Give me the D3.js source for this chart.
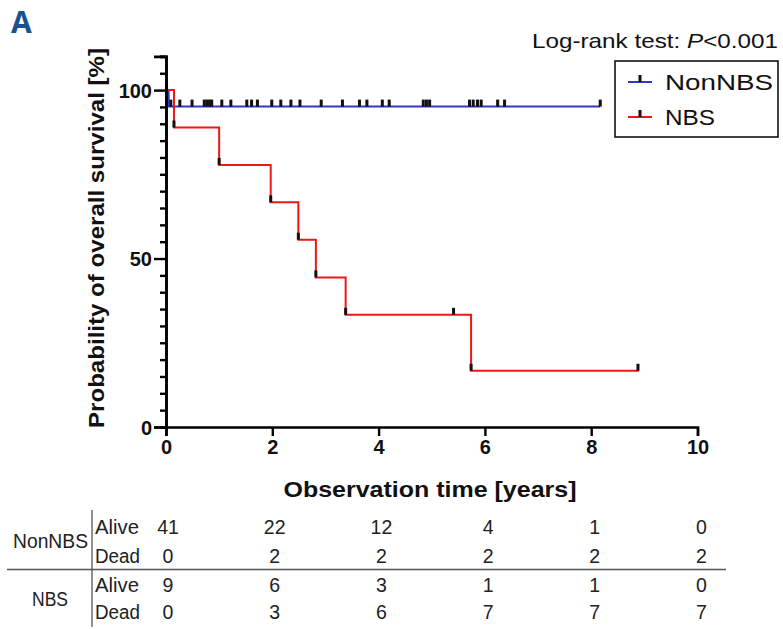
<!DOCTYPE html>
<html><head><meta charset="utf-8">
<script src="https://cdn.jsdelivr.net/npm/d3@7"></script>
<style>
html,body{margin:0;padding:0;background:#fff;}
svg{display:block;}
</style>
</head><body>
<svg id="chart" width="783" height="629"></svg>
<script>
// ---- data ----
const xTicks = [0, 2, 4, 6, 8, 10];
const yMajorTicks = [0, 50, 100];
const yMinorTicks = [5,10,15,20,25,30,35,40,45,55,60,65,70,75,80,85,90,95,105,110];

// NonNBS KM curve
const nonNbsTimes = [0, 0.05];
const nonNbsSurv = [100, 95.1];
const nonNbsEnd = 8.17;
const nonNbsCensorTimes = [0.01, 0.09, 0.26, 0.49, 0.72, 0.77, 0.82, 0.86, 1.05, 1.22, 1.52, 1.61, 1.72, 1.99, 2.16, 2.35, 2.52, 2.92, 3.32, 3.64, 3.78, 4.07, 4.20, 4.84, 4.90, 4.96, 5.71, 5.78, 5.86, 5.93, 6.24, 6.37, 8.17];

// NBS KM curve
const nbsTimes = [0, 0.15, 1.0, 1.97, 2.49, 2.82, 3.38, 5.74];
const nbsSurv = [100, 88.9, 77.8, 66.7, 55.6, 44.4, 33.3, 16.7];
const nbsEnd = 8.9;
const nbsCensorTimes = [0.15, 1.0, 1.97, 2.49, 2.82, 3.38, 5.41, 5.74, 8.88];

// risk table
const tableTimes = [0, 2, 4, 6, 8, 10];
const nonNbsAlive = [41, 22, 12, 4, 1, 0];
const nonNbsDead = [0, 2, 2, 2, 2, 2];
const nbsAlive = [9, 6, 3, 1, 1, 0];
const nbsDead = [0, 3, 6, 7, 7, 7];

const groupNames = ["NonNBS", "NBS"];
const colors = {NonNBS: "#3434cf", NBS: "#f01616"};

// ---- drawing ----
const svg = d3.select("#chart");
const x = d3.scaleLinear().domain([0, 10]).range([166, 697.5]);
const y = d3.scaleLinear().domain([0, 110]).range([427, 56.4]);
const ARIAL = "'Liberation Sans', Arial, Helvetica, sans-serif";

function survAt(times, surv, t){
  let s = surv[0];
  for (let i = 0; i < times.length; i++) if (times[i] <= t) s = surv[i];
  return s;
}

// panel letter
svg.append("text").attr("x", 11).attr("y", 33)
  .style("font-family", "'Open Sans', 'Liberation Sans', sans-serif")
  .style("font-weight", "700").style("font-size", "30px")
  .attr("fill", "#1c5190").text("A");

// curves
const line = d3.line().x(d => x(d[0])).y(d => y(d[1])).curve(d3.curveStepAfter);
function drawCurve(times, surv, end, censors, color){
  const pts = times.map((t, i) => [t, surv[i]]);
  pts.push([end, surv[surv.length - 1]]);
  svg.append("path").datum(pts).attr("d", line)
    .attr("fill", "none").attr("stroke", color).attr("stroke-width", 2);
  svg.append("g").selectAll("rect").data(censors).join("rect")
    .attr("x", d => x(d) - 1.5).attr("width", 3)
    .attr("y", d => y(survAt(times, surv, d)) - 7).attr("height", 7)
    .attr("fill", "#111");
}
drawCurve(nonNbsTimes, nonNbsSurv, nonNbsEnd, nonNbsCensorTimes, colors.NonNBS);
drawCurve(nbsTimes, nbsSurv, nbsEnd, nbsCensorTimes, colors.NBS);

// axes
const yAxisMinor = d3.axisLeft(y).tickValues(yMinorTicks).tickSize(6).tickFormat("");
const yAxis = d3.axisLeft(y).tickValues(yMajorTicks).tickSize(12).tickPadding(2);
const gyMinor = svg.append("g").attr("transform", "translate(166,0)").call(yAxisMinor);
const gy = svg.append("g").attr("transform", "translate(166,0)").call(yAxis);
const xAxis = d3.axisBottom(x).tickValues(xTicks).tickSize(9).tickPadding(4);
const gx = svg.append("g").attr("transform", "translate(0,427)").call(xAxis);
[gyMinor, gy, gx].forEach(g => {
  g.selectAll("path.domain").attr("stroke", "#000").attr("stroke-width", 2.6);
  g.selectAll(".tick line").attr("stroke", "#000").attr("stroke-width", 2.4);
  g.selectAll(".tick text").attr("fill", "#111")
    .style("font-family", ARIAL).style("font-weight", "700").style("font-size", "20px");
});
gy.selectAll(".tick text").attr("dy", "0.36em");

// axis titles
svg.append("text").attr("transform", "translate(104,238) rotate(-90)")
  .attr("text-anchor", "middle")
  .attr("textLength", 380).attr("lengthAdjust", "spacingAndGlyphs")
  .style("font-family", ARIAL).style("font-weight", "700").style("font-size", "22px")
  .attr("fill", "#111").text("Probability of overall survival [%]");
svg.append("text").attr("x", 430).attr("y", 497)
  .attr("text-anchor", "middle")
  .attr("textLength", 293).attr("lengthAdjust", "spacingAndGlyphs")
  .style("font-family", ARIAL).style("font-weight", "700").style("font-size", "22px")
  .attr("fill", "#111").text("Observation time [years]");

// log-rank text
const lr = svg.append("text").attr("x", 778).attr("y", 48).attr("text-anchor", "end")
  .style("font-family", ARIAL).style("font-size", "21px").attr("fill", "#111")
  .attr("textLength", 246).attr("lengthAdjust", "spacingAndGlyphs");
lr.append("tspan").text("Log-rank test: ");
lr.append("tspan").style("font-style", "italic").text("P");
lr.append("tspan").text("<0.001");

// legend
svg.append("rect").attr("x", 615).attr("y", 61).attr("width", 163).attr("height", 76)
  .attr("fill", "#fff").attr("stroke", "#111").attr("stroke-width", 1.6);
const legendRows = [{name: groupNames[0], cy: 82, len: 108}, {name: groupNames[1], cy: 117, len: 50}];
legendRows.forEach(r => {
  svg.append("line").attr("x1", 628).attr("x2", 652).attr("y1", r.cy).attr("y2", r.cy)
    .attr("stroke", colors[r.name]).attr("stroke-width", 2);
  svg.append("rect").attr("x", 638.5).attr("y", r.cy - 7).attr("width", 3).attr("height", 7).attr("fill", "#111");
  svg.append("text").attr("x", 665).attr("y", r.cy + 8)
    .attr("textLength", r.len).attr("lengthAdjust", "spacingAndGlyphs")
    .style("font-family", ARIAL).style("font-size", "22px").attr("fill", "#111")
    .text(r.name);
});

// risk table
const tx = d3.scaleLinear().domain([0, 10]).range([168, 701.5]);
const tableRows = [
  {label: "Alive", vals: nonNbsAlive, cy: 527, len: 44},
  {label: "Dead", vals: nonNbsDead, cy: 556, len: 45},
  {label: "Alive", vals: nbsAlive, cy: 585, len: 44},
  {label: "Dead", vals: nbsDead, cy: 612, len: 45}
];
const tfont = g => g.style("font-family", ARIAL).style("font-size", "19.5px").attr("fill", "#222");
tableRows.forEach(r => {
  svg.append("text").attr("x", 95).attr("y", r.cy).attr("dy", "0.36em")
    .attr("textLength", r.len).attr("lengthAdjust", "spacingAndGlyphs").call(tfont).text(r.label);
  svg.append("g").selectAll("text").data(r.vals).join("text")
    .attr("x", (d, i) => tx(tableTimes[i])).attr("y", r.cy).attr("dy", "0.36em")
    .attr("text-anchor", "middle").call(tfont).text(d => d);
});
svg.append("text").attr("x", 13).attr("y", 541).attr("dy", "0.36em")
  .attr("textLength", 75).attr("lengthAdjust", "spacingAndGlyphs").call(tfont).text(groupNames[0]);
svg.append("text").attr("x", 32).attr("y", 599).attr("dy", "0.36em")
  .attr("textLength", 36).attr("lengthAdjust", "spacingAndGlyphs").call(tfont).text(groupNames[1]);
svg.append("line").attr("x1", 92).attr("x2", 92).attr("y1", 510).attr("y2", 627).attr("stroke", "#555").attr("stroke-width", 1.3);
svg.append("line").attr("x1", 7).attr("x2", 726).attr("y1", 569.5).attr("y2", 569.5).attr("stroke", "#555").attr("stroke-width", 1.6);
</script>
</body></html>
